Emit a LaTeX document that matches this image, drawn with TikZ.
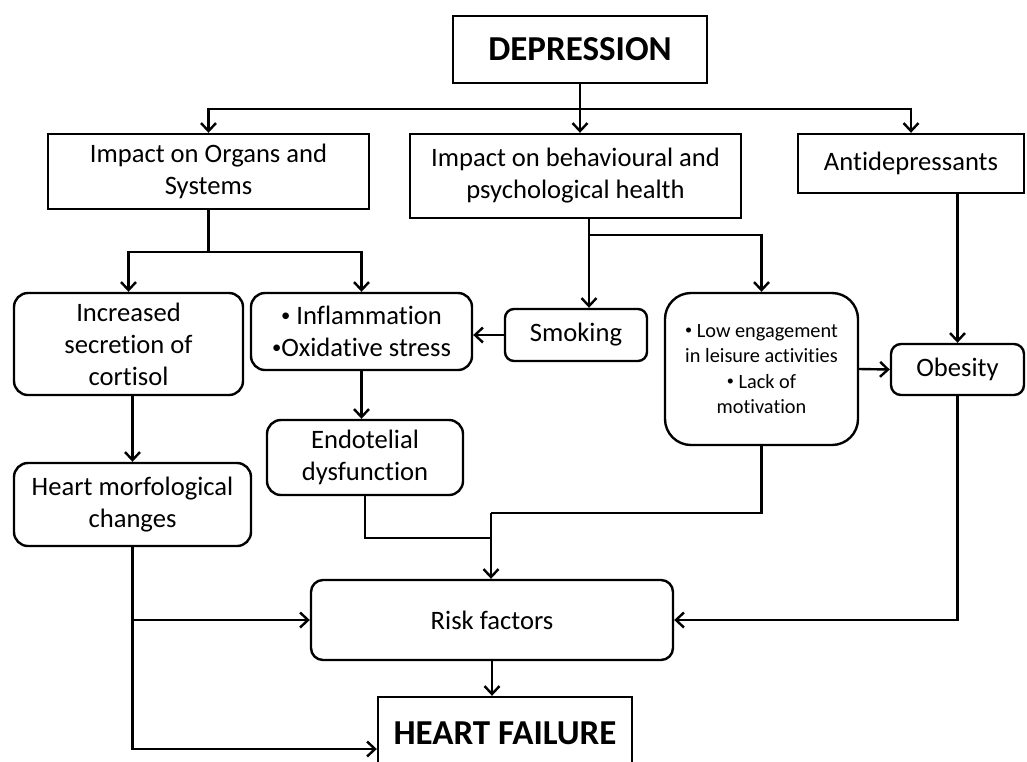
\documentclass[tikz,border=0pt]{standalone}
\usepackage{fontspec}
\setmainfont{Carlito}[Ligatures=NoCommon]
\usetikzlibrary{arrows.meta,calc}
\newcommand{\bul}{\raisebox{0.12em}{\fontsize{0.7em}{0.7em}\selectfont\textbullet}}

\begin{document}
\begin{tikzpicture}[x=1pt,y=1pt,yscale=-1,xscale=1,
  box/.style={draw,line width=2.4pt,inner sep=0pt,align=center,font=\fontsize{26.6}{32}\selectfont},
  rbox/.style={box,rounded corners=14pt},
  arr/.style={line width=2.4pt,-{Straight Barb[length=8pt,width=15pt]}},
  link/.style={line width=2.4pt}]
\useasboundingbox (0,0) rectangle (1027,761);
\clip (0,0) rectangle (1027,761);

% top level
\node[box,minimum width=254pt,minimum height=67pt,font=\fontsize{35}{40}\selectfont\bfseries] (dep) at (580,49.5) {DEPRESSION};
\node[box,minimum width=321pt,minimum height=75pt] (organs) at (208.5,171.5) {Impact on Organs and\\Systems};
\node[box,minimum width=331pt,minimum height=84pt] (behav) at (575.5,176) {Impact on behavioural and\\psychological health};
\node[box,minimum width=226pt,minimum height=59pt] (antidep) at (911,163.5) {Antidepressants};

% second level
\node[rbox,minimum width=229pt,minimum height=102pt] (cortisol) at (128.5,344) {Increased\\secretion of\\cortisol};
\node[rbox,minimum width=221pt,minimum height=77pt] (inflam) at (361.5,331.5) {\bul{} Inflammation\\\bul Oxidative stress};
\node[rbox,rounded corners=9pt,minimum width=142pt,minimum height=52pt] (smoking) at (576,335) {Smoking};
\node[rbox,rounded corners=26pt,minimum width=193pt,minimum height=152pt,font=\fontsize{20.3}{25.5}\selectfont] (leisure) at (761.5,369) {\bul{} Low engagement\\in leisure activities\\\bul{} Lack of\\motivation};
\node[rbox,rounded corners=10pt,minimum width=133pt,minimum height=51pt] (obesity) at (957.5,369.5) {Obesity};

% third level
\node[rbox,minimum width=196pt,minimum height=75pt] (endo) at (365,457.5) {Endotelial\\dysfunction};
\node[rbox,minimum width=237pt,minimum height=83pt] (heartmorf) at (132.5,504.5) {Heart morfological\\changes};
\node[rbox,rounded corners=12pt,minimum width=362pt,minimum height=80pt] (risk) at (492,620) {Risk factors};
\node[box,minimum width=254pt,minimum height=72pt,font=\fontsize{35}{40}\selectfont\bfseries] (hf) at (505,733) {HEART FAILURE};

% helper points
\coordinate (bsplit) at (589,235);
\coordinate (merge) at (491,513);
\coordinate (endojoin) at (491,538);

% connectors
\draw[arr] (dep.south) -- (dep |- behav.north);
\draw[arr] (dep.south) -- ++(0,25) -| (organs.north);
\draw[arr] (dep.south) -- ++(0,25) -| (antidep.north);
\draw[arr] (organs.south) -- ++(0,42) -| (cortisol.north);
\draw[arr] (organs.south) -- ++(0,42) -| (inflam.north);
\draw[link] (behav.south -| bsplit) -- (bsplit);
\draw[arr] (bsplit) -- (bsplit |- smoking.north);
\draw[arr] (bsplit) -| (leisure.north);
\draw[arr] (smoking.west) -- (smoking.west -| inflam.east);
\draw[arr] (antidep.south -| obesity) -- (obesity.north);
\draw[arr] (leisure.east) -- (obesity.west);
\draw[arr] (inflam.south) -- (inflam.south |- endo.north);
\draw[arr] (heartmorf.north |- cortisol.south) -- (heartmorf.north);
\draw[link] (endo.south) |- (endojoin);
\draw[link] (leisure.south) |- (merge);
\draw[arr] (merge) -- (merge |- risk.north);
\draw[arr] (heartmorf.south) |- (risk.west);
\draw[arr] (heartmorf.south) |- ($(hf.west)+(0,16)$);
\draw[arr] (obesity.south) |- (risk.east);
\draw[arr] (risk.south) -- (risk.south |- hf.north);
\end{tikzpicture}
\end{document}
